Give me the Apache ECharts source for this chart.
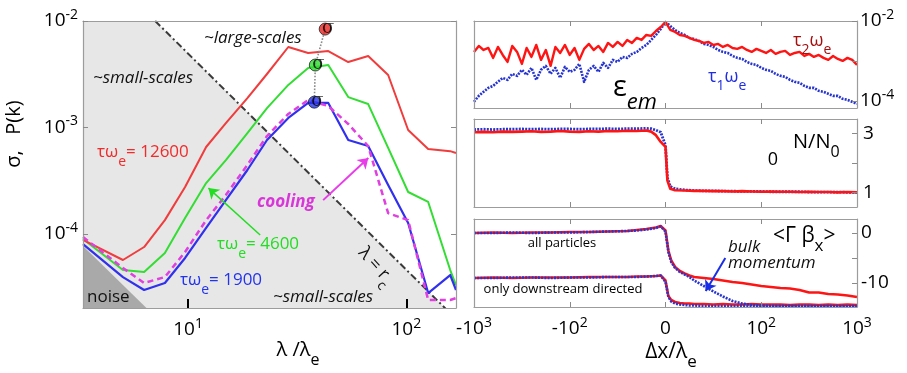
<!DOCTYPE html>
<html>
<head>
<meta charset="utf-8">
<script src="https://cdn.jsdelivr.net/npm/echarts@6/dist/echarts.min.js"></script>
<style>
  html, body { margin: 0; padding: 0; background: #fff; }
  #chart { width: 907px; height: 373px; }
</style>
</head>
<body>
<div id="chart"></div>
<script>
/* Left: spectra P(k) vs lambda/lambda_e (log-log)
   Right: three stacked profiles vs dx/lambda_e (symmetric log axis,
   stored as axis position: -2 = -10^3, -1 = -10^2, 0, 1 = 10^2, 2 = 10^3) */

// ---------- left panel ----------
const LAMBDA = [3.3, 5.03, 6.29, 7.83, 9.69, 12.1, 14.9, 18.7, 23.0, 28.8, 35.5, 43.9, 54.2, 66.9, 82.6, 102, 126, 159, 169];
const P_12600 = [8.8e-5, 5.7e-5, 7.55e-5, 1.35e-4, 2.76e-4, 6.56e-4, 1.10e-3, 1.89e-3, 3.18e-3, 5.70e-3, 5.01e-3, 5.22e-3, 4.12e-3, 4.69e-3, 3.11e-3, 9.48e-4, 6.28e-4, 6.0e-4, 5.77e-4];
const P_4600  = [8.97e-5, 4.59e-5, 4.40e-5, 6.63e-5, 1.41e-4, 3.01e-4, 4.95e-4, 8.87e-4, 1.52e-3, 2.51e-3, 3.62e-3, 3.86e-3, 1.93e-3, 1.66e-3, 6.43e-4, 2.48e-4, 2.00e-4, 4.59e-5, 3.32e-5];
const P_1900  = [8.05e-5, 3.94e-5, 2.98e-5, 3.47e-5, 5.96e-5, 1.14e-4, 2.08e-4, 3.99e-4, 7.63e-4, 1.23e-3, 1.70e-3, 1.70e-3, 7.63e-4, 6.70e-4, 2.88e-4, 1.27e-4, 2.79e-5, 4.12e-5, 2.98e-5];
const P_COOL  = [9.37e-5, 4.80e-5, 3.47e-5, 3.94e-5, 6.78e-5, 1.35e-4, 2.32e-4, 4.45e-4, 8.32e-4, 1.34e-3, 1.81e-3, 1.59e-3, 1.08e-3, 6.70e-4, 1.57e-4, 1.35e-4, 2.40e-5, 2.40e-5, 2.5e-5];

const SIGMA_LAMBDA = [42.5, 38.3, 37.9];
const SIGMA_P = [8.4e-3, 3.86e-3, 1.73e-3];
const SIGMA_COLORS = ['#e8231f', '#2fdc2f', '#2233ee'];

const SHADE_LAMBDA = [3.3, 7.07, 153];
const SHADE_P = [1e-2, 1e-2, 1.95e-5];
const NOISE_LAMBDA = [3.3, 6.56];
const NOISE_P = [7.7e-5, 1.95e-5];

const GREEN_ARROW = [[21.4, 9.8e-5], [12.4, 2.7e-4]];
const COOL_ARROW = [[41.6, 2.08e-4], [67, 5.18e-4]];

const LEFT_X_TICKS = [10, 100];
const LEFT_X_LABELS = ['10^1', '10^2'];
const LEFT_Y_TICKS = [1e-2, 1e-3, 1e-4];
const LEFT_Y_LABELS = ['10^-2', '10^-3', '10^-4'];

// ---------- right panels ----------
const RIGHT_X_TICKS = [-2, -1, 0, 1, 2];
const RIGHT_X_LABELS = ['-10^3', '-10^2', '0', '10^2', '10^3'];

const U_EEM = [-2, -1.95, -1.9, -1.85, -1.8, -1.75, -1.7, -1.65, -1.6, -1.55, -1.5, -1.45, -1.4, -1.35, -1.3, -1.25, -1.2, -1.15, -1.1, -1.05,
  -1, -0.95, -0.9, -0.85, -0.8, -0.75, -0.7, -0.65, -0.6, -0.55, -0.5, -0.45, -0.4, -0.35, -0.3, -0.25, -0.2, -0.15, -0.1, -0.05,
  0, 0.05, 0.1, 0.15, 0.2, 0.25, 0.3, 0.35, 0.4, 0.45, 0.5, 0.55, 0.6, 0.65, 0.7, 0.75, 0.8, 0.85, 0.9, 0.95,
  1, 1.05, 1.1, 1.15, 1.2, 1.25, 1.3, 1.35, 1.4, 1.45, 1.5, 1.55, 1.6, 1.65, 1.7, 1.75, 1.8, 1.85, 1.9, 1.95, 2];
const EEM_TAU2 = [1.68e-3, 2.37e-3, 1.88e-3, 2.11e-3, 1.19e-3, 2.24e-3, 1.41e-3, 9.44e-4, 2.37e-3, 1.68e-3, 8.41e-4, 2.11e-3, 1.26e-3, 2.51e-3, 1.06e-3, 1.88e-3, 7.5e-4, 2.24e-3, 1.58e-3, 2.51e-3,
  1.41e-3, 2.11e-3, 1.06e-3, 2.0e-3, 2.66e-3, 1.88e-3, 2.37e-3, 1.68e-3, 2.82e-3, 2.24e-3, 2.99e-3, 2.37e-3, 3.35e-3, 2.82e-3, 3.76e-3, 3.35e-3, 4.47e-3, 4.22e-3, 5.62e-3, 7.08e-3,
  9.44e-3, 5.96e-3, 5.31e-3, 4.47e-3, 4.22e-3, 3.76e-3, 3.35e-3, 3.16e-3, 2.82e-3, 2.99e-3, 2.51e-3, 2.66e-3, 2.24e-3, 2.51e-3, 2.11e-3, 2.0e-3, 2.24e-3, 1.88e-3, 1.68e-3, 2.0e-3,
  1.78e-3, 1.58e-3, 1.88e-3, 1.5e-3, 1.68e-3, 1.78e-3, 1.41e-3, 1.58e-3, 1.68e-3, 1.33e-3, 1.5e-3, 1.26e-3, 1.41e-3, 1.19e-3, 1.06e-3, 1.33e-3, 1.12e-3, 1.0e-3, 1.19e-3, 1.06e-3, 7.94e-4];
const EEM_TAU1 = [9.44e-5, 1.33e-4, 1.68e-4, 2.11e-4, 2.37e-4, 2.99e-4, 3.76e-4, 3.35e-4, 4.73e-4, 4.22e-4, 5.96e-4, 4.47e-4, 6.68e-4, 3.35e-4, 5.96e-4, 7.5e-4, 4.73e-4, 6.68e-4, 3.76e-4, 7.08e-4,
  5.31e-4, 5.96e-4, 8.41e-4, 2.99e-4, 5.96e-4, 7.5e-4, 5.31e-4, 8.91e-4, 6.68e-4, 1.06e-3, 9.44e-4, 1.26e-3, 1.19e-3, 1.5e-3, 1.68e-3, 2.11e-3, 2.51e-3, 3.35e-3, 4.47e-3, 6.31e-3,
  9.44e-3, 7.5e-3, 5.96e-3, 5.01e-3, 4.47e-3, 3.76e-3, 3.55e-3, 3.16e-3, 2.66e-3, 2.51e-3, 2.24e-3, 1.88e-3, 1.68e-3, 1.58e-3, 1.33e-3, 1.19e-3, 1.12e-3, 9.44e-4, 8.41e-4, 7.94e-4,
  6.68e-4, 5.96e-4, 5.62e-4, 4.73e-4, 4.22e-4, 3.98e-4, 3.35e-4, 2.99e-4, 2.82e-4, 2.37e-4, 2.11e-4, 2.11e-4, 1.78e-4, 1.68e-4, 1.5e-4, 1.33e-4, 1.33e-4, 1.12e-4, 1.06e-4, 9.44e-5, 8.41e-5];
const EEM_Y_TICKS = [1e-2, 1e-3, 1e-4];
const EEM_Y_LABELED = [1e-2, 1e-4];
const EEM_Y_LABELS = ['10^-2', '10^-4'];

const U_N = [-2, -1.9, -1.8, -1.7, -1.6, -1.5, -1.4, -1.3, -1.2, -1.1, -1, -0.9, -0.8, -0.7, -0.6, -0.5, -0.4, -0.3, -0.2,
  -0.15, -0.1, -0.05, 0, 0.02, 0.05,
  0.1, 0.2, 0.3, 0.4, 0.5, 0.6, 0.7, 0.8, 0.9, 1, 1.1, 1.2, 1.3, 1.4, 1.5, 1.6, 1.7, 1.8, 1.9, 2];
const N_RED = [3.05, 3.06, 3.05, 3.07, 3.06, 3.07, 3.08, 3.06, 3.07, 3.09, 3.07, 3.06, 3.08, 3.07, 3.09, 3.08, 3.1, 3.09, 3.11,
  3.07, 2.95, 2.72, 2.55, 1.4, 1.12,
  1.07, 1.06, 1.05, 1.05, 1.04, 1.04, 1.03, 1.04, 1.03, 1.02, 1.03, 1.02, 1.02, 1.01, 1.02, 1.01, 1.01, 1.0, 1.01, 1.0];
const N_BLUE = [3.14, 3.15, 3.14, 3.15, 3.15, 3.16, 3.15, 3.16, 3.15, 3.16, 3.16, 3.15, 3.16, 3.16, 3.17, 3.16, 3.17, 3.17, 3.18,
  3.17, 3.12, 3.05, 2.6, 1.5, 1.2,
  1.12, 1.08, 1.06, 1.05, 1.05, 1.04, 1.04, 1.03, 1.03, 1.03, 1.02, 1.02, 1.02, 1.02, 1.01, 1.01, 1.01, 1.01, 1.0, 1.0];
const N_Y_TICKS = [1, 2, 3];
const N_Y_LABELED = [3, 1];
const N_Y_LABELS = ['3', '1'];

const U_G = [-2, -1.8, -1.6, -1.4, -1.2, -1, -0.8, -0.6, -0.4, -0.3, -0.2, -0.1, -0.05,
  0, 0.03, 0.06, 0.1, 0.15, 0.2, 0.25, 0.3,
  0.4, 0.5, 0.6, 0.7, 0.8, 0.9, 1, 1.1, 1.2, 1.3, 1.4, 1.5, 1.6, 1.7, 1.8, 1.9, 2];
const G_ALL_RED = [0, 0.1, 0, 0.1, 0.1, 0.2, 0.2, 0.3, 0.4, 0.6, 0.8, 1.1, 1.4,
  0.5, -3.5, -5.5, -6.8, -7.6, -8.1, -8.5, -8.8,
  -9.0, -9.2, -9.5, -9.8, -10.0, -10.3, -10.6, -10.8, -11.0, -11.1, -11.4, -11.9, -11.9, -12.2, -12.3, -12.5, -12.8];
const G_ALL_BLUE = [0, 0, 0.1, 0, 0.1, 0.1, 0.2, 0.3, 0.4, 0.5, 0.7, 1.0, 1.3,
  0.3, -3.8, -5.8, -7.0, -7.8, -8.3, -8.8, -9.5,
  -10.6, -11.7, -12.7, -13.6, -14.1, -14.4, -14.5, -14.6, -14.6, -14.6, -14.6, -14.6, -14.7, -14.6, -14.7, -14.7, -14.7];
const G_DOWN_RED = [-9.0, -8.9, -9.0, -8.9, -8.9, -8.9, -8.8, -8.8, -8.8, -8.7, -8.7, -8.6, -8.5,
  -9.5, -12.6, -13.4, -13.8, -14.0, -14.1, -14.1, -14.2,
  -14.2, -14.3, -14.2, -14.3, -14.3, -14.2, -14.3, -14.3, -14.3, -14.4, -14.3, -14.3, -14.4, -14.3, -14.4, -14.3, -14.4];
const G_DOWN_BLUE = [-9.0, -9.0, -8.9, -8.9, -9.0, -8.9, -8.9, -8.8, -8.8, -8.8, -8.7, -8.6, -8.5,
  -9.8, -12.8, -13.7, -14.1, -14.3, -14.4, -14.5, -14.5,
  -14.6, -14.6, -14.6, -14.6, -14.6, -14.6, -14.6, -14.6, -14.6, -14.6, -14.6, -14.6, -14.6, -14.6, -14.6, -14.6, -14.6];
const G_Y_TICKS = [0, -5, -10];
const G_Y_LABELED = [0, -10];
const G_Y_LABELS = ['0', '-10'];
const BULK_ARROW = [[0.625, -5], [0.42, -11.6]];

// ---------- helpers ----------
const FONT = "'Open Sans', 'DejaVu Sans', sans-serif";
const FRAME = '#9c9c9c';

const zip = (xs, ys) => xs.map((x, i) => [x, ys[i]]);

function powRich(s) {
  const i = s.indexOf('^');
  return i < 0 ? '{b|' + s + '}' : '{b|' + s.slice(0, i) + '}{s|' + s.slice(i + 1) + '}';
}

function pickLabel(ticks, labels) {
  return function (v) {
    for (let i = 0; i < ticks.length; i++) {
      const t = ticks[i];
      if (Math.abs(v - t) <= Math.abs(t) * 1e-6 + 1e-9) return powRich(labels[i]);
    }
    return '';
  };
}

const AX_RICH = {
  b: { fontFamily: FONT, fontSize: 19, lineHeight: 26, color: '#000', verticalAlign: 'middle' },
  s: { fontFamily: FONT, fontSize: 14, lineHeight: 14, color: '#000', verticalAlign: 'top' }
};

function axis(gridIndex, position, type, min, max, extra) {
  return Object.assign({
    gridIndex, position, type, min, max, z: 10,
    axisLine: { show: true, onZero: false, lineStyle: { color: FRAME, width: 1.2 } },
    axisTick: { show: false },
    axisLabel: { show: false },
    splitLine: { show: false },
    minorTick: { show: false }
  }, extra || {});
}

function innerTicks(values, len, color, width) {
  return { show: true, inside: true, length: len, customValues: values, lineStyle: { color, width } };
}

function labels(values, fmt, margin) {
  return { show: true, customValues: values, formatter: fmt, margin, rich: AX_RICH, color: '#000' };
}

function curve(xi, yi, xs, ys, color, width, type, z) {
  return {
    type: 'line', xAxisIndex: xi, yAxisIndex: yi, data: zip(xs, ys),
    symbol: 'none', showSymbol: false, silent: true, z: z || 3,
    lineStyle: { color, width, type: type || 'solid', join: 'round' }
  };
}

function arrow(pts, color, width) {
  return {
    silent: true, animation: false, symbol: ['none', 'arrow'], symbolSize: 10,
    label: { show: false }, lineStyle: { color, width, type: 'solid' },
    emphasis: { disabled: true },
    data: [[{ coord: pts[0] }, { coord: pts[1] }]]
  };
}

function txt(x, y, text, o) {
  o = o || {};
  const size = o.size || 17;
  const common = {
    fontFamily: o.family || FONT, fill: o.color || '#111', color: o.color || '#111',
    fontStyle: o.italic ? 'italic' : 'normal', fontWeight: o.bold ? 'bold' : 'normal'
  };
  const lh = Math.round(size * (o.lh || 1.8));
  const al = o.align || 'left';
  return {
    type: 'text', x, y, rotation: o.rot || 0, silent: true, z: 100,
    style: {
      text, align: al, textAlign: al, verticalAlign: 'middle', textVerticalAlign: 'middle',
      rich: {
        a: Object.assign({}, common, { fontSize: size, lineHeight: lh, verticalAlign: 'middle' }),
        s: Object.assign({}, common, { fontSize: Math.round(size * (o.sub || 0.8)), verticalAlign: 'bottom' }),
        i: Object.assign({}, common, { fontSize: Math.round(size * (o.sub || 0.8)), fontStyle: 'italic', verticalAlign: 'bottom' })
      }
    }
  };
}

// ---------- chart ----------
const chart = echarts.init(document.getElementById('chart'), null, { renderer: 'canvas' });

const RX = { min: -2, max: 2 };
const GRAY_TICK = '#8a8a8a';
const RED = '#ff1414';
const BLUE = '#2634d0';
const BLUE_DOTS = [2, 1.2];

const option = {
  animation: false,
  backgroundColor: '#fff',
  grid: [
    { left: 83, top: 21, width: 373, height: 287 },
    { left: 474, top: 21, width: 383, height: 87 },
    { left: 474, top: 119, width: 383, height: 88 },
    { left: 474, top: 219, width: 383, height: 88 }
  ],
  xAxis: [
    axis(0, 'bottom', 'log', 3.3, 169, {
      axisTick: innerTicks(LEFT_X_TICKS, 9, '#000', 2),
      axisLabel: labels(LEFT_X_TICKS, pickLabel(LEFT_X_TICKS, LEFT_X_LABELS), 9)
    }),
    axis(0, 'top', 'log', 3.3, 169),
    axis(1, 'bottom', 'value', RX.min, RX.max, { axisTick: innerTicks([-1, 0, 1], 5, GRAY_TICK, 1) }),
    axis(1, 'top', 'value', RX.min, RX.max, { axisTick: innerTicks([-1, 0, 1], 5, GRAY_TICK, 1) }),
    axis(2, 'bottom', 'value', RX.min, RX.max, { axisTick: innerTicks([-1, 0, 1], 5, GRAY_TICK, 1) }),
    axis(2, 'top', 'value', RX.min, RX.max, { axisTick: innerTicks([-1, 0, 1], 5, GRAY_TICK, 1) }),
    axis(3, 'bottom', 'value', RX.min, RX.max, {
      axisTick: innerTicks([-1, 0, 1], 5, GRAY_TICK, 1),
      axisLabel: labels(RIGHT_X_TICKS, pickLabel(RIGHT_X_TICKS, RIGHT_X_LABELS), 9)
    }),
    axis(3, 'top', 'value', RX.min, RX.max, { axisTick: innerTicks([-1, 0, 1], 5, GRAY_TICK, 1) })
  ],
  yAxis: [
    axis(0, 'left', 'log', 2.02e-5, 1e-2, {
      axisTick: innerTicks(LEFT_Y_TICKS, 5, GRAY_TICK, 1),
      axisLabel: labels(LEFT_Y_TICKS, pickLabel(LEFT_Y_TICKS, LEFT_Y_LABELS), 5)
    }),
    axis(0, 'right', 'log', 2.02e-5, 1e-2, { axisTick: innerTicks(LEFT_Y_TICKS, 5, GRAY_TICK, 1) }),
    axis(1, 'right', 'log', 6.6e-5, 1e-2, {
      axisTick: innerTicks(EEM_Y_TICKS, 5, GRAY_TICK, 1),
      axisLabel: labels(EEM_Y_LABELED, pickLabel(EEM_Y_LABELED, EEM_Y_LABELS), 3)
    }),
    axis(1, 'left', 'log', 6.6e-5, 1e-2),
    axis(2, 'right', 'value', 0.5, 3.5, {
      axisTick: innerTicks(N_Y_TICKS, 5, GRAY_TICK, 1),
      axisLabel: labels(N_Y_LABELED, pickLabel(N_Y_LABELED, N_Y_LABELS), 6)
    }),
    axis(2, 'left', 'value', 0.5, 3.5),
    axis(3, 'right', 'value', -14.8, 2.8, {
      axisTick: innerTicks(G_Y_TICKS, 5, GRAY_TICK, 1),
      axisLabel: labels(G_Y_LABELED, pickLabel(G_Y_LABELED, G_Y_LABELS), 4)
    }),
    axis(3, 'left', 'value', -14.8, 2.8)
  ],
  series: [
    // shaded regions
    {
      type: 'line', xAxisIndex: 0, yAxisIndex: 0, data: zip(SHADE_LAMBDA, SHADE_P),
      symbol: 'none', silent: true, z: 1, lineStyle: { width: 0 },
      areaStyle: { color: '#e7e7e7', opacity: 1, origin: 'start' }
    },
    {
      type: 'line', xAxisIndex: 0, yAxisIndex: 0, data: zip(NOISE_LAMBDA, NOISE_P),
      symbol: 'none', silent: true, z: 1, lineStyle: { width: 0 },
      areaStyle: { color: '#a9a9a9', opacity: 1, origin: 'start' }
    },
    // lambda = r_c
    curve(0, 0, SHADE_LAMBDA.slice(1), SHADE_P.slice(1), '#3a3a3a', 2, [7, 3, 2, 3], 2),
    // spectra
    Object.assign(curve(0, 0, LAMBDA, P_4600, '#33dd33', 2), { markLine: arrow(GREEN_ARROW, '#22dd22', 1.5) }),
    curve(0, 0, LAMBDA, P_12600, '#f03c3c', 2),
    curve(0, 0, LAMBDA, P_1900, '#3030ee', 2.2),
    Object.assign(curve(0, 0, LAMBDA, P_COOL, '#e040e0', 2.5, [6, 4]), { markLine: arrow(COOL_ARROW, '#e83de8', 2) }),
    // sigma markers
    curve(0, 0, SIGMA_LAMBDA, SIGMA_P, '#8c8c8c', 1.6, 'dotted', 4),
    {
      type: 'scatter', xAxisIndex: 0, yAxisIndex: 0, silent: true, z: 5,
      symbol: 'circle', symbolSize: 12,
      data: SIGMA_LAMBDA.map((x, i) => ({
        value: [x, SIGMA_P[i]],
        itemStyle: { color: SIGMA_COLORS[i], borderColor: '#222', borderWidth: 1 }
      })),
      label: {
        show: true, position: 'inside', formatter: 'σ', offset: [3, -1],
        fontFamily: "'DejaVu Serif', serif", fontSize: 18, color: '#000'
      }
    },
    // eps_em
    curve(2, 2, U_EEM, EEM_TAU1, BLUE, 2.6, BLUE_DOTS, 3),
    curve(2, 2, U_EEM, EEM_TAU2, RED, 2.4, 'solid', 4),
    // N/N0
    curve(4, 4, U_N, N_BLUE, BLUE, 2.8, BLUE_DOTS, 3),
    curve(4, 4, U_N, N_RED, RED, 2.6, 'solid', 4),
    // <Gamma beta_x>
    curve(6, 6, U_G, G_ALL_RED, RED, 2.6, 'solid', 3),
    curve(6, 6, U_G, G_DOWN_RED, RED, 2.6, 'solid', 3),
    Object.assign(curve(6, 6, U_G, G_ALL_BLUE, BLUE, 2.6, BLUE_DOTS, 4), { markLine: arrow(BULK_ARROW, '#1a2ee6', 2) }),
    curve(6, 6, U_G, G_DOWN_BLUE, BLUE, 2.6, BLUE_DOTS, 4)
  ],
  graphic: [
    // axis titles
    txt(14, 134, '{a|σ,   P(k)}', { size: 20, rot: Math.PI / 2, align: 'center', color: '#000' }),
    txt(298, 350, '{a|λ /λ}{s|e}', { size: 20, align: 'center', color: '#000' }),
    txt(671, 352, '{a|Δx/λ}{s|e}', { size: 21, align: 'center', color: '#000' }),
    // left panel annotations
    txt(204, 38, '{a|~large-scales}', { size: 17, italic: true }),
    txt(93, 78, '{a|~small-scales}', { size: 17, italic: true }),
    txt(97, 152, '{a|τω}{s|e}{a|= 12600}', { size: 17, color: '#f22a2a', lh: 2.0 }),
    txt(217, 244, '{a|τω}{s|e}{a|= 4600}', { size: 17, color: '#22dd22', lh: 2.0 }),
    txt(180, 280, '{a|τω}{s|e}{a|= 1900}', { size: 17, color: '#2233ee', lh: 2.0 }),
    txt(257, 202, '{a|cooling}', { size: 17, italic: true, bold: true, color: '#d936d9' }),
    txt(376, 266, '{a|λ = r}{s|c}', { size: 18, rot: -0.84, align: 'center' }),
    txt(87, 297, '{a|noise}', { size: 17 }),
    txt(273, 297, '{a|~small-scales}', { size: 17, italic: true }),
    // right panel annotations
    txt(613, 88, '{a|ε}{i|em}', { size: 29, sub: 0.75, color: '#000' }),
    txt(793, 41, '{a|τ}{s|2}{a|ω}{s|e}', { size: 18, color: '#a50f0f' }),
    txt(708, 77, '{a|τ}{s|1}{a|ω}{s|e}', { size: 18, color: '#1f2ee0' }),
    txt(773, 160, '{a|0}', { size: 18, align: 'center', color: '#000' }),
    txt(793, 142, '{a|N/N}{s|0}', { size: 20, color: '#000' }),
    txt(773, 236, '{a|<Γ β}{s|x}{a|>}', { size: 21, color: '#000' }),
    txt(562, 243, '{a|all particles}', { size: 13, align: 'center', color: '#000' }),
    txt(563, 289, '{a|only downstream directed}', { size: 13, align: 'center', color: '#000' }),
    txt(728, 247, '{a|bulk}', { size: 17, italic: true }),
    txt(728, 263, '{a|momentum}', { size: 17, italic: true })
  ]
};

chart.setOption(option);
</script>
</body>
</html>
